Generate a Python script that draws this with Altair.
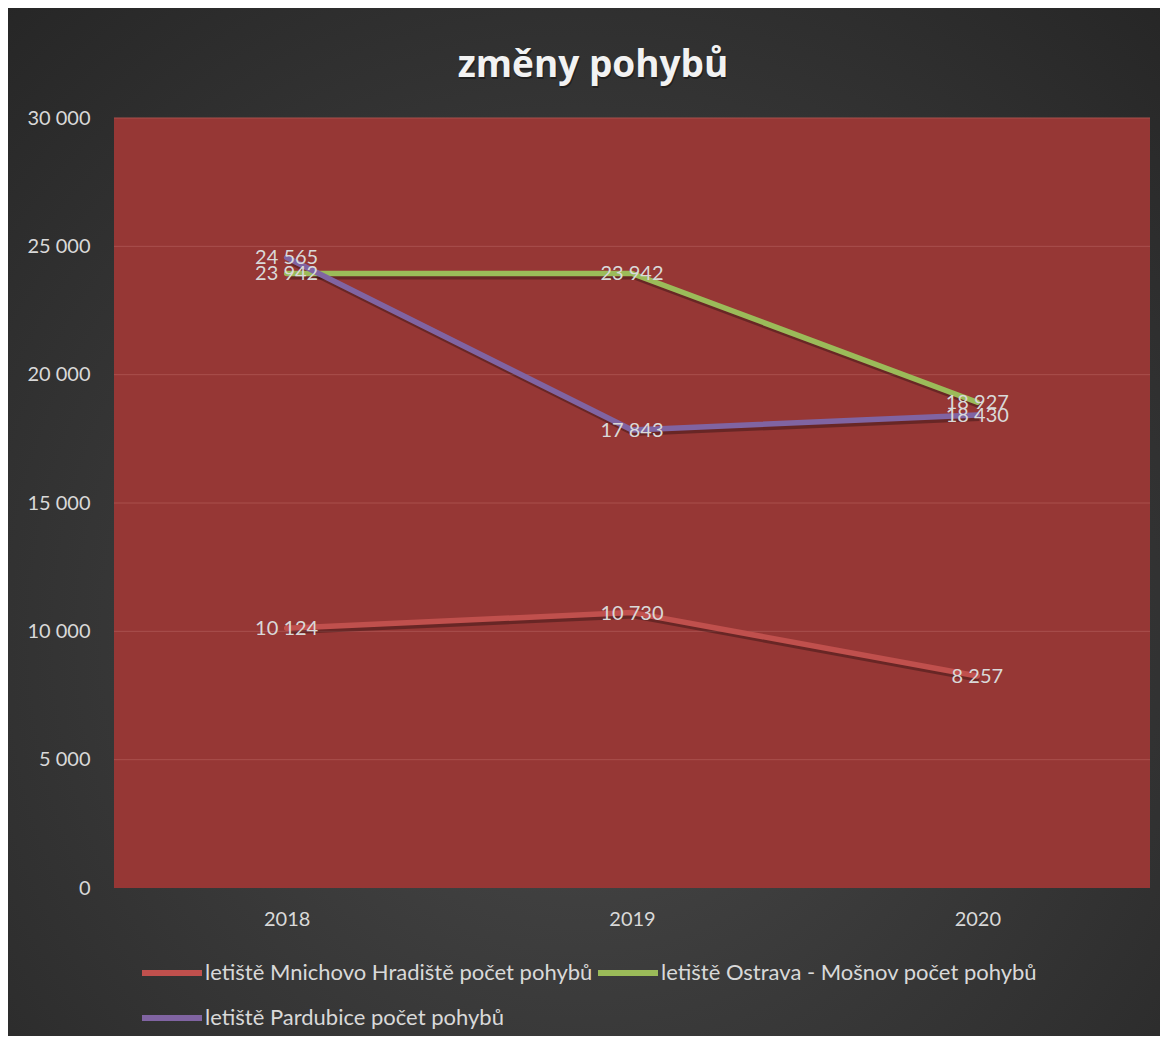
import altair as alt
import pandas as pd

title_text = ["změny pohybů"]
years = ["2018", "2019", "2020"]
series_names = [
    "letiště Mnichovo Hradiště počet pohybů",
    "letiště Ostrava - Mošnov počet pohybů",
    "letiště Pardubice počet pohybů",
]
mnichovo = [10124, 10730, 8257]
ostrava = [23942, 23942, 18927]
pardubice = [24565, 17843, 18430]
series_colors = ["#c0504d", "#9bbb59", "#8064a2"]
y_ticks = [0, 5000, 10000, 15000, 20000, 25000, 30000]

rows = []
for name, vals in zip(series_names, [mnichovo, ostrava, pardubice]):
    for i, (yr, v) in enumerate(zip(years, vals)):
        rows.append({"rok": yr, "serie": name, "hodnota": v})
df = pd.DataFrame(rows)
grid_df = pd.DataFrame({"hodnota": y_ticks[1:]})

W, H = 1036, 770
PL, PT, PR, PB = 106, 110, 10, 148
FONT = "Lato"
TXT = "#d9d9d9"

x_enc = alt.X("rok:O", scale=alt.Scale(domain=years, padding=0.5),
              axis=alt.Axis(title=None, labelAngle=0, labelFontSize=20, labelColor=TXT,
                            labelFont=FONT, labelPadding=21, domain=False, ticks=False, grid=False,
                            zindex=2))
y_scale = alt.Scale(domain=[0, 30000], nice=False)
y_axis = alt.Axis(title=None, values=y_ticks, labelFontSize=20, labelColor=TXT,
                  labelFont=FONT, labelPadding=24, domain=False, ticks=False, grid=False,
                  zindex=2,
                  labelExpr="replace(format(datum.value, ','), ',', ' ')")
y_enc = alt.Y("hodnota:Q", scale=y_scale, axis=y_axis)

one = pd.DataFrame({"a": [0]})

bg = alt.Chart(one).mark_rect(
    fill={"gradient": "radial", "x1": 0.5, "y1": 0.6, "r1": 0.0,
          "x2": 0.5, "y2": 0.6, "r2": 0.75,
          "stops": [{"offset": 0, "color": "#4a4a4a"}, {"offset": 1, "color": "#262626"}]},
).encode(x=alt.value(-PL), x2=alt.value(W + PR), y=alt.value(-PT), y2=alt.value(H + PB))

title = alt.Chart(pd.DataFrame({"t": title_text})).mark_text(
    fontSize=37, fontWeight="bold", color="#f2f2f2", font="Open Sans",
    align="center", baseline="middle"
).encode(text="t:N", x=alt.value(479), y=alt.value(-52))

title_shadow = alt.Chart(pd.DataFrame({"t": title_text})).mark_text(
    fontSize=37, fontWeight="bold", color="#000000", opacity=0.35, font="Open Sans",
    align="center", baseline="middle"
).encode(text="t:N", x=alt.value(480), y=alt.value(-50))

plot_bg = alt.Chart(one).mark_rect(fill="#963735").encode(
    x=alt.value(0), x2=alt.value(W), y=alt.value(0), y2=alt.value(H))

grid = alt.Chart(grid_df).mark_rule(color="#a9504d", strokeWidth=1).encode(
    y=y_enc, x=alt.value(0), x2=alt.value(W))

color_enc = alt.Color("serie:N", scale=alt.Scale(domain=series_names, range=series_colors),
                      legend=alt.Legend(title=None, orient="none", legendX=25, legendY=822,
                                        columns=2, direction="horizontal",
                                        symbolType="stroke", symbolSize=3600,
                                        symbolStrokeWidth=6, labelFontSize=22, labelColor=TXT,
                                        labelFont=FONT, labelOffset=0, columnPadding=-7,
                                        rowPadding=-15, padding=0, labelLimit=600, zindex=2))

shadow = alt.Chart(df).mark_line(strokeWidth=6, color="#000000", opacity=0.3,
                                 xOffset=2, yOffset=3).encode(
    x=x_enc, y=y_enc, detail="serie:N")

lines = alt.Chart(df).mark_line(strokeWidth=5.5, strokeCap="round", strokeJoin="round").encode(
    x=x_enc, y=y_enc, color=color_enc)

labels = alt.Chart(df).transform_calculate(
    lab="replace(format(datum.hodnota, ','), ',', ' ')"
).mark_text(fontSize=20, color=TXT, font=FONT, align="center", baseline="middle", dy=1).encode(
    x=x_enc, y=y_enc, text="lab:N")

chart = alt.layer(bg, title_shadow, title, plot_bg, grid, shadow, lines, labels).properties(
    width=W, height=H,
    autosize=alt.AutoSizeParams(type="none"),
    padding={"left": PL, "top": PT, "right": PR, "bottom": PB},
    background="#2b2b2b",
).configure_view(stroke=None, fill=None)

chart.save("out.html", embed_options={"renderer": "svg", "actions": False})
